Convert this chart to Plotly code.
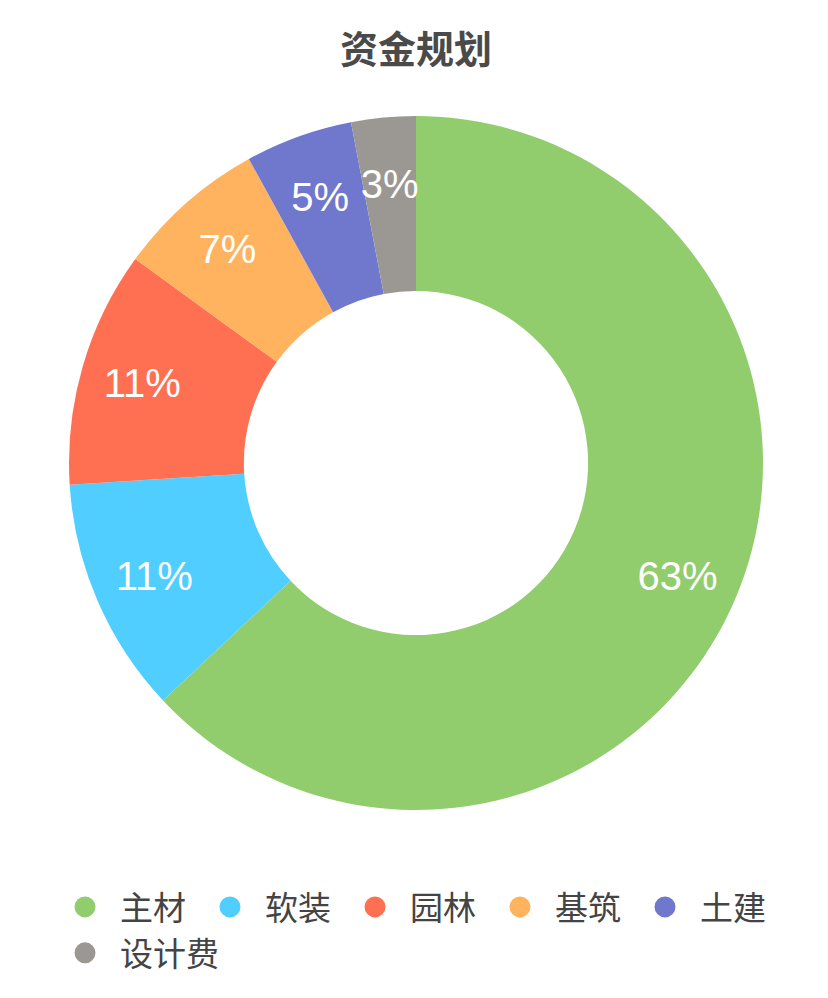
import plotly.graph_objects as go

title_text = "资金规划"
categories = ["主材", "软装", "园林", "基筑", "土建", "设计费"]
values = [63, 11, 11, 7, 5, 3]
colors = ["#91CD6C", "#4FCEFF", "#FF7053", "#FFB35E", "#6F78CC", "#9B9893"]

W, H = 828, 998
OFF = 8  # default page body margin
cx, cy, R = 416 - OFF, 463 - OFF, 347


def dom(r):
    return dict(x=[(cx - r) / W, (cx + r) / W], y=[(H - cy - r) / H, (H - cy + r) / H])


fig = go.Figure()
# coloured ring
fig.add_trace(go.Pie(
    labels=categories, values=values,
    marker=dict(colors=colors, line=dict(width=0)),
    hole=0.496, sort=False, direction="clockwise", rotation=0,
    textinfo="none", showlegend=False,
    hoverinfo="label+percent", domain=dom(R),
))

# percentage labels: transparent rings sized so every label sits at ~0.82 R
label_rings = [
    (R, 0.643, [0, 1, 2, 3]),
    (327, 0.3, [4]),
    (307, 0.3, [5]),
]
for r, hole, idx in label_rings:
    fig.add_trace(go.Pie(
        labels=categories, values=values,
        marker=dict(colors=["rgba(0,0,0,0)"] * len(values), line=dict(width=0)),
        hole=hole, sort=False, direction="clockwise", rotation=0,
        textinfo="none",
        texttemplate=["%{percent:.0%}" if i in idx else "" for i in range(len(values))],
        textposition="inside", insidetextorientation="horizontal",
        insidetextfont=dict(color="white", size=40, family="Liberation Sans, Arial, sans-serif"),
        showlegend=False, hoverinfo="skip", domain=dom(r),
    ))

for name, col in zip(categories, colors):
    fig.add_trace(go.Scatter(
        x=[None], y=[None], mode="markers", name=name,
        marker=dict(size=16, color=col, symbol="circle", line=dict(width=5, color=col)),
        showlegend=True,
    ))

fig.update_layout(
    width=W, height=H,
    margin=dict(l=0, r=0, t=0, b=0),
    paper_bgcolor="white", plot_bgcolor="white",
    title=dict(text="<b>" + title_text + "</b>", x=cx / W, xanchor="center", y=1 - (50 - OFF) / H,
               yanchor="middle", font=dict(size=38, color="#4a4a4a", family="Noto Sans CJK SC")),
    uniformtext=dict(minsize=40, mode="show"),
    xaxis=dict(visible=False), yaxis=dict(visible=False),
    legend=dict(orientation="h", x=42 / W, xanchor="left", y=1 - 871 / H, yanchor="top",
                font=dict(size=33, color="#444444", family="Noto Sans CJK SC"),
                itemwidth=60, entrywidth=70, itemsizing="trace"),
)

fig.write_html("out.html")
